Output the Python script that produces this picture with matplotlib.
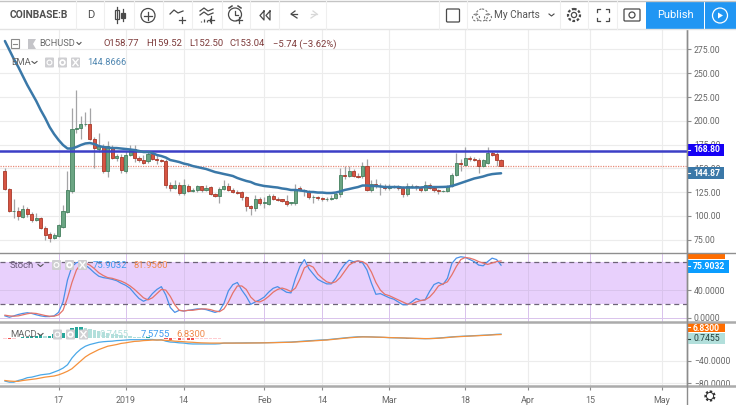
import numpy as np
import matplotlib
matplotlib.use('Agg')
import matplotlib.pyplot as plt
from matplotlib.patches import Rectangle, Circle, FancyBboxPatch

plt.rcParams['font.family'] = ['Roboto', 'DejaVu Sans']

W, H = 736, 405

# days counted from 2019-01-01, one candle per day from Dec 5 to Mar 26
days = np.arange(-27, 85)

opens = [147.6, 128, 105, 105, 99, 107, 102, 96, 98, 87, 81, 77, 79, 88, 104, 126, 191, 192, 197, 197,
         181, 170, 174, 147, 173, 161, 162, 147, 164, 170, 161, 159, 158, 165, 160, 159, 158, 133, 129, 133,
         124, 132, 126, 127, 131, 127, 130, 123, 121, 128, 132, 127, 125, 125, 120, 110, 108, 118, 114, 113,
         121, 118, 118, 116, 114, 114, 129, 127, 126, 120, 120, 119, 118, 118, 119, 123, 143, 142, 147, 142,
         142, 153, 127, 134, 132, 131, 129, 131, 131, 129, 123, 131, 131, 129, 127, 133, 129, 127, 126, 126,
         131, 143, 156, 154, 161, 160, 159, 153, 156, 166, 165, 158.77]
highs = [150, 129, 118, 109, 112, 109, 104, 103, 99, 89, 83, 82, 92, 111, 147, 214, 232, 205, 209, 213,
         183, 187, 176, 179, 175, 165, 165, 168, 175, 175, 163, 164, 167, 167, 165, 160, 160, 136, 138, 136,
         139, 134, 129, 133, 132, 133, 132, 124, 130, 138, 135, 129, 127, 126, 121, 111, 122, 120, 120, 123,
         123, 120, 118, 122, 115, 134, 131, 128, 127, 122, 121, 120, 120, 122, 125, 150, 152, 152, 149, 145,
         157, 160, 138, 139, 135, 134, 134, 133, 133, 131, 135, 134, 133, 132, 137, 135, 130, 128, 127, 133,
         145, 166, 160, 172, 163, 162, 161, 160, 172, 168, 167, 159.52]
lows = [127, 104, 98, 96, 98, 99, 94, 95, 86, 75, 73, 76, 78, 87, 103, 124, 187, 181, 195, 180,
        150, 167, 145, 141, 160, 158, 145, 145, 163, 157, 157, 155, 156, 159, 155, 157, 129, 126, 128, 122,
        122, 125, 125, 125, 125, 126, 122, 120, 114, 127, 126, 124, 123, 117, 105, 101, 105, 112, 108, 112,
        117, 116, 115, 110, 112, 112, 126, 121, 118, 114, 117, 116, 116, 117, 118, 120, 139, 141, 141, 140,
        140, 126, 125, 129, 122, 127, 127, 129, 127, 120, 121, 129, 127, 125, 126, 128, 125, 123, 125, 125,
        130, 142, 147, 153, 158, 158, 145, 151, 155, 163, 153, 152.5]
closes = [128, 105, 105.5, 100, 107, 102, 96, 98, 87, 80, 77, 80, 90, 105, 127, 191, 192, 197, 197, 181,
          171, 174, 147, 174, 161, 163, 148, 164, 170, 161, 159, 156, 165, 160, 159, 158, 133, 129, 133, 124,
          133, 126, 127, 131, 127, 129, 123, 121, 128, 132, 127, 125, 124, 120, 110, 108, 118, 114, 115, 121,
          118, 117, 116, 113, 115, 128, 127, 126, 120, 120, 119, 118, 118, 119, 123, 143, 142, 147, 142, 141,
          153, 127, 134, 132, 131, 129, 132, 130, 129, 123, 132, 132, 130, 127, 133, 129, 127, 126, 126, 131,
          143, 156, 155, 161, 160, 159, 153, 159, 166, 164, 159, 153.04]

ema = [283.9, 274.5, 265, 256.6, 247.1, 237.7, 229.3, 220.9, 211.4, 203, 193.5, 186.1, 179.9, 174.6, 170.9, 170.9,
       172.5, 174.6, 176.2, 176.7, 175.6, 173.5, 172.5, 171.9, 171.4, 171.4, 170.9, 170.4, 169.9, 169.3, 168.3, 167.2,
       167.2, 166.2, 164.1, 163, 161.4, 158.8, 157.8, 156.7, 155.1, 154.1, 152.5, 151.5, 150.4, 149.4, 147.8, 146.2,
       145.2, 144.1, 143.1, 142, 139.9, 138.3, 136.8, 135.7, 133.6, 132.5, 131.5, 131, 130.4, 129.9, 128.9, 128.3,
       127.3, 127.3, 126.8, 126.2, 125.2, 125.2, 124.6, 124.6, 124.1, 124.1, 124.6, 125.7, 127.3, 128.3, 129.4, 130.4,
       132, 132, 131.5, 131.5, 131, 130.4, 130.4, 130.4, 130.4, 129.9, 129.9, 129.9, 129.9, 129.9, 130.4, 130.4,
       130.4, 130.4, 130.5, 130.7, 131.5, 133, 134.6, 136.2, 137.8, 139.4, 140.4, 141.5, 143, 144, 144.5, 144.87]

stoch_k = [3, 1, 3, 5, 6.5, 7.5, 6.5, 4.6, 3, 2, 2, 3, 8, 23, 54.6, 74, 79.5, 81, 76, 71,
           65, 60, 58, 57, 55.5, 53.6, 50, 47, 42.6, 35, 28, 24, 27, 35, 41, 45, 33, 15, 8, 11,
           10, 11, 12, 13, 13, 12, 10, 8, 10, 21, 39, 48, 51, 40, 31, 19.5, 23, 26, 30, 37,
           42.6, 45, 41, 37, 36, 57, 74, 84, 71, 63, 55.5, 52, 49, 49, 57, 68, 77, 83, 81, 82,
           79.5, 69, 50, 34, 35, 32, 29, 27, 23, 19, 19, 23, 28, 25, 26, 38, 48, 51, 48, 57,
           78.5, 86, 88, 87, 84, 81, 76, 75, 81, 86, 84, 75.9]
stoch_d = [4, 3, 2.5, 3, 4.5, 6, 7, 6.5, 5, 3.5, 2.5, 2.5, 4.5, 11, 29, 51, 69, 78, 79, 76,
           71, 65, 61, 58, 57, 55, 53, 50, 46, 41, 35, 29, 26, 29, 35, 41, 40, 31, 19, 11,
           10, 11, 11, 12, 13, 13, 12, 10, 9, 13, 23, 36, 46, 46, 41, 30, 24, 23, 26, 31,
           37, 41, 43, 41, 38, 43, 56, 72, 76, 73, 63, 57, 52, 50, 52, 58, 67, 76, 80, 82,
           81, 77, 66, 51, 40, 34, 32, 29, 26, 23, 20, 20, 23, 25, 26, 30, 37, 46, 49, 52,
           62, 74, 84, 87, 86, 84, 81, 79, 77, 79, 81, 81.96]

macd_line = [-76, -78, -78, -75, -73, -70, -69, -67, -65, -64, -63, -60, -57, -53, -47, -35, -26, -19, -14, -11,
             -9, -7, -6, -5.4, -5, -4, -3.6, -3, -2.4, -2.4, -2.4, -2.4, -2, -2, -3, -2.4, -5, -6.6, -7, -8,
             -8.4, -9.5, -10, -10, -10, -10, -10, -10, -9.6, -8.4, -8.4, -8.4, -8.2, -8.2, -8, -8, -8, -8, -7.8, -7.6,
             -7.4, -7.2, -7, -6.8, -6.6, -6, -5.4, -4.8, -4.2, -3.8, -3.2, -2.8, -2.4, -1.6, -0.8, 0, 0.8, 1.6, 2.2, 2.8,
             3, 2.8, 2.6, 2.2, 2, 1.6, 1.2, 1, 0.8, 0.6, 0.2, 0, -0.2, -0.4, -0.6, -0.4, 0, 0.6, 1.2, 2,
             2.6, 3.2, 3.6, 4, 4.4, 4.8, 5.2, 5.6, 6, 6.6, 7.2, 7.58]
macd_signal = [-75, -76, -76.5, -76.5, -75, -74, -73, -72, -70.5, -69, -68, -67, -65, -62, -58.5, -54, -47, -40, -33, -28,
               -24, -20, -17, -14, -12.5, -11, -9, -8, -6.6, -5.4, -5, -4, -3.6, -3, -3, -3, -3.6, -4, -5, -5.4,
               -6, -6.6, -7, -7.6, -8, -8.2, -8.4, -8.4, -8.4, -8.4, -8.4, -8.4, -8.4, -8.4, -8.4, -8.3, -8.2, -8.1, -8, -7.9,
               -7.7, -7.5, -7.3, -7.1, -6.9, -6.5, -6, -5.5, -5, -4.5, -4, -3.4, -3, -2.2, -1.4, -0.6, 0.2, 1, 1.6, 2.2,
               2.5, 2.5, 2.4, 2.2, 2, 1.8, 1.4, 1.2, 1, 0.8, 0.5, 0.3, 0, -0.2, -0.4, -0.4, -0.2, 0.2, 0.8, 1.4,
               2.2, 2.8, 3.2, 3.6, 4, 4.4, 4.8, 5.2, 5.6, 6.1, 6.5, 6.83]
macd_hist = [-1, -2, -1.5, 1, 2, 3, 4, 5, 5.5, 5, 5, 7, 8, 9, 11.5, 19, 21, 21, 19, 17,
             15, 13, 11, 9, 7.5, 7, 5.5, 5, 4, 3, 2.6, 1.6, 1.6, 1, 0.1, 0.6, -1.4, -2.6, -2, -2.6,
             -2.4, -2.9, -3, -2, -1.6, -1.2, -1, -0.8, -0.4, -0.2, 0.1, 0.2, 0.2, 0.2, 0.2, 0.3, 0.4, 0.2, -0.1, 0.2,
             0.3, 0.3, 0.3, 0.3, 0.3, 0.5, 0.6, 0.7, 0.8, 0.7, 0.8, 0.6, 0.6, 0.6, 0.6, 0.6, 0.6, 0.6, 0.6, 0.6,
             0.5, 0.3, 0.2, 0.1, 0.1, -0.2, -0.2, -0.2, -0.2, -0.2, -0.3, -0.3, -0.2, -0.2, -0.2, 0.1, 0.2, 0.4, 0.4, 0.6,
             0.6, 0.6, 0.4, 0.4, 0.4, 0.4, 0.4, 0.4, 0.4, 0.5, 0.7, 0.75]

time_ticks = [-15, 0, 13, 31, 44, 59, 76, 90, 104, 120]
time_labels = ['17', '2019', '14', 'Feb', '14', 'Mar', '18', 'Apr', '15', 'May']
price_ticks = [75, 100, 125, 150, 175, 200, 225, 250, 275]
stoch_ticks = [0, 40]
macd_ticks = [-80, -40]
level_price = 168.80
last_close = 153.04

GRID = '#ececec'
TICK = '#666666'
AXIS = '#8c8c8c'
RIGHT = 687


def pane(top, bottom):
    return fig.add_axes([0, 1 - bottom / H, RIGHT / W, (bottom - top) / H])


def style(ax, yticks, fmt):
    ax.set_xlim(-28.1, 125.6)
    ax.set_xticks(time_ticks)
    ax.yaxis.tick_right()
    ax.set_yticks(yticks)
    ax.set_yticklabels([fmt(v).replace('-', '\u2212') for v in yticks])
    ax.grid(color=GRID, lw=0.8)
    ax.set_axisbelow(True)
    ax.tick_params(axis='y', length=3, width=0.8, color=AXIS, labelcolor=TICK, labelsize=6.2, pad=2)
    ax.tick_params(axis='x', length=0, labelbottom=False)
    for s in ax.spines.values():
        s.set_visible(False)
    ax.spines['right'].set_visible(True)
    ax.spines['right'].set_color(AXIS)
    ax.spines['right'].set_linewidth(1)


fig = plt.figure(figsize=(W / 100, H / 100), dpi=100, facecolor='white')

# price pane
ax = pane(30, 253)
ax.set_ylim(61.06, 295.5)
style(ax, price_ticks, lambda v: f'{v:.2f}')

colors = ['#6ba583' if c >= o else '#d75442' for o, c in zip(opens, closes)]
edges = ['#44805f' if c >= o else '#a8392a' for o, c in zip(opens, closes)]
ax.vlines(days, lows, highs, color='#a4a4a6', lw=0.9, zorder=2)
ax.bar(days, np.array(closes) - np.array(opens), bottom=opens, width=0.7, color=colors,
       edgecolor=edges, linewidth=0.6, zorder=3)
ax.axhline(last_close, color='#e98b78', lw=0.9, ls=(0, (1, 1)), zorder=2)
ax.axhline(level_price, color='#3c3fc6', lw=1.8, zorder=4)
ax.plot(days, ema, color='#3a78a8', lw=1.8, zorder=5, solid_capstyle='round')

# stochastic pane
ax2 = pane(253, 321.5)
ax2.set_ylim(-5.1, 93.4)
style(ax2, stoch_ticks, lambda v: f'{v:.4f}')
ax2.axhspan(20, 80, color='#e8d0fc', lw=0, zorder=0)
ax2.axhline(80, color='#6e6478', lw=0.9, ls=(0, (4, 3)), zorder=1)
ax2.axhline(20, color='#6e6478', lw=0.9, ls=(0, (4, 3)), zorder=1)
ax2.grid(color='#d9c3ec', lw=0.7)
ax2.plot(days, stoch_k, color='#4a90e8', lw=0.9, zorder=3)
ax2.plot(days, stoch_d, color='#e5736a', lw=0.9, zorder=3)

# macd pane
ax3 = pane(321.5, 386)
ax3.set_ylim(-84.8, 30)
style(ax3, macd_ticks, lambda v: f'{v:.4f}')
hist = np.array(macd_hist)
change = np.diff(hist, prepend=hist[0])
hist_colors = []
for h, c in zip(hist, change):
    if h >= 0:
        hist_colors.append('#26a69a' if c >= 0 else '#b2dfdb')
    else:
        hist_colors.append('#ef5350' if c < 0 else '#ffcdd2')
ax3.bar(days, hist, width=0.75, color=hist_colors, zorder=2)
ax3.plot(days, macd_line, color='#4aa8e8', lw=0.9, zorder=3)
ax3.plot(days, macd_signal, color='#f5913c', lw=0.9, zorder=3)
ax3.tick_params(axis='x', length=3, width=0.8, color=AXIS, labelbottom=True, labelcolor=TICK,
                labelsize=6.4, pad=4)
ax3.set_xticklabels(time_labels)

# overlay in pixels for toolbar, legends and price flags
ov = fig.add_axes([0, 0, 1, 1], facecolor='none', zorder=10)
ov.set_xlim(0, W)
ov.set_ylim(H, 0)
ov.axis('off')


def flag(y0, y1, x1, color, label, text_color='white', weight='bold', dy=0):
    ov.add_patch(Rectangle((RIGHT, y0), x1 - RIGHT, y1 - y0, color=color, lw=0))
    ov.plot([RIGHT, RIGHT + 3], [(y0 + y1) / 2] * 2, color=text_color, lw=0.8)
    ov.text(RIGHT + 6, (y0 + y1) / 2 + dy, label, color=text_color, fontsize=6.2, va='center', weight=weight)


def buttons(x0, y, n=3):
    for k in range(n):
        ov.add_patch(FancyBboxPatch((x0 + k * 13 + 1, y - 4), 7, 8, boxstyle='round,pad=1', color='#cfcfd2', lw=0))
    ov.add_patch(Circle((x0 + 4.5, y), 2.4, fill=False, ec='white', lw=0.8))
    ov.add_patch(Circle((x0 + 17.5, y), 2.4, fill=False, ec='white', lw=1.2))
    ov.plot([x0 + 28, x0 + 33], [y - 3, y + 3], color='white', lw=1)
    ov.plot([x0 + 28, x0 + 33], [y + 3, y - 3], color='white', lw=1)


flag(143.5, 156, 724, '#1500f5', '168.80')
flag(167, 179, 724, '#3b78a8', '144.87')
ov.add_patch(Rectangle((RIGHT, 253), 38, 5.5, color='#ff6d00', lw=0))
flag(260, 272.5, 729, '#0a9dff', '75.9032')
flag(322.5, 332, 725, '#ff6d00', '6.8300', dy=1)
flag(333, 344, 725, '#b2dfdb', '0.7455', text_color='#24403c', weight='normal')

# pane borders
ov.plot([0, W], [253, 253], color='#8f8f8f', lw=1)
ov.plot([0, W], [321.5, 321.5], color='#ababab', lw=1.8)
ov.plot([0, W], [386, 386], color='#ababab', lw=1.8)
ov.plot([RIGHT, RIGHT], [30, H], color=AXIS, lw=1)

# toolbar
ov.add_patch(Rectangle((0, 0), W, 29, color='white', lw=0))
ov.plot([0, W], [29.3, 29.3], color='#e3e3e3', lw=1)
ov.plot([0, W], [0.5, 0.5], color='#c4c4c4', lw=1)
for sx in [76, 104, 134, 163, 192, 222, 250, 279, 326, 439, 467, 560, 588, 617]:
    ov.plot([sx, sx], [1, 29], color='#efefef', lw=0.8)
ov.text(10, 15.5, 'COINBASE:B', fontsize=7.4, weight='bold', color='#4f4f4f', va='center')
ov.text(90.5, 15.5, 'D', fontsize=8, color='#4f4f4f', va='center', ha='center')
IC = '#4a4a4a'
# candle icon
ov.plot([116.5, 116.5], [7, 23], color=IC, lw=0.9)
ov.add_patch(Rectangle((114.5, 10), 4, 9, fill=False, ec=IC, lw=0.9))
ov.plot([123, 123], [9, 21], color=IC, lw=0.9)
ov.add_patch(Rectangle((121, 12.5), 4, 5, fc=IC, ec=IC, lw=0.9))
# plus circle
ov.add_patch(Circle((148, 15.5), 7, fill=False, ec=IC, lw=0.9))
ov.plot([144, 152], [15.5, 15.5], color=IC, lw=0.9)
ov.plot([148, 148], [11.5, 19.5], color=IC, lw=0.9)
# indicators
ov.plot([170, 174, 178, 183], [14, 10, 13, 11], color=IC, lw=0.9)
ov.plot([182, 182], [17, 23], color=IC, lw=0.9)
ov.plot([179, 185], [20, 20], color=IC, lw=0.9)
ov.plot([200, 204, 208, 213], [11, 8, 11, 9], color=IC, lw=0.9)
ov.plot([200, 204, 208, 213], [15, 12, 15, 13], color=IC, lw=0.9)
ov.vlines([201, 204, 207, 210], [21, 19, 20, 18], 22, color=IC, lw=0.9)
ov.plot([211, 211], [16, 23], color=IC, lw=0.9)
ov.plot([208, 214], [20, 20], color=IC, lw=0.9)
# alarm
ov.add_patch(Circle((235, 14.5), 6.5, fill=False, ec=IC, lw=0.9))
ov.plot([235, 235, 238], [11, 15, 15], color=IC, lw=0.9)
ov.plot([229, 232], [8, 6], color=IC, lw=1.1)
ov.plot([238, 241], [6, 8], color=IC, lw=1.1)
ov.plot([239, 239], [17, 23], color=IC, lw=0.9)
ov.plot([236, 242], [20, 20], color=IC, lw=0.9)
# rewind
ov.plot([264, 260, 264, 264], [11, 15.5, 20, 11], color=IC, lw=0.9)
ov.plot([270, 266, 270, 270], [11, 15.5, 20, 11], color=IC, lw=0.9)
# undo redo
ov.plot([297, 291, 295], [18, 14, 11], color=IC, lw=0.9)
ov.plot([291, 297], [14, 14], color=IC, lw=0.9)
ov.plot([311, 317, 313], [18, 14, 11], color='#d8d8d8', lw=0.9)
ov.plot([311, 317], [14, 14], color='#d8d8d8', lw=0.9)
# right part of the toolbar
ov.add_patch(FancyBboxPatch((447.5, 10), 11, 11, boxstyle='round,pad=1', fill=False, ec=IC, lw=0.9))
ov.add_patch(Circle((482, 15), 6, fill=False, ec='#777777', lw=0.8, ls=(0, (2, 1.5))))
ov.add_patch(Circle((476, 17.5), 3.5, fill=False, ec='#777777', lw=0.8, ls=(0, (2, 1.5))))
ov.add_patch(Circle((488, 17.5), 3.5, fill=False, ec='#777777', lw=0.8, ls=(0, (2, 1.5))))
ov.text(494, 15.5, 'My Charts', fontsize=7.3, color='#555555', va='center')
ov.plot([549, 551.5, 554], [14, 16, 14], color=IC, lw=0.8)
ov.add_patch(Circle((574, 15), 6, fill=False, ec=IC, lw=1.6, ls=(0, (1.2, 0.8))))
ov.add_patch(Circle((574, 15), 2.6, fill=False, ec=IC, lw=0.9))
for cx, cy, dx, dy in [(597, 9, 1, 1), (609, 9, -1, 1), (597, 21, 1, -1), (609, 21, -1, -1)]:
    ov.plot([cx, cx, cx + 3 * dx], [cy + 3 * dy, cy, cy], color=IC, lw=0.9)
ov.add_patch(FancyBboxPatch((625, 10), 14, 10, boxstyle='round,pad=1', fill=False, ec=IC, lw=0.9))
ov.add_patch(Circle((632, 15), 3, fill=False, ec=IC, lw=0.9))
ov.add_patch(Rectangle((646, 1), 58, 28, color='#2196f3', lw=0))
ov.add_patch(Rectangle((705, 1), 31, 28, color='#2196f3', lw=0))
ov.text(675.5, 15.5, 'Publish', fontsize=8, color='white', ha='center', va='center')
ov.add_patch(Circle((720, 15.5), 7.5, fill=False, ec='white', lw=0.9))
ov.fill([718, 718, 723], [12.5, 18.5, 15.5], color='white', lw=0)

# legends
MAROON = '#7d3a3a'
ov.add_patch(Rectangle((10.5, 39), 8.5, 9, fill=False, ec='#8a8a8a', lw=0.8))
ov.plot([12.5, 17], [43.5, 43.5], color='#8a8a8a', lw=0.8)
ov.fill([28, 36, 33, 36, 28], [39, 39, 44, 49, 49], color='#c4c4c8', lw=0)
ov.text(39.5, 44, 'BCHUSD', fontsize=6.7, color='#6a6a6a', va='center')
ov.plot([77, 79, 81], [42.5, 44.5, 42.5], color='#555555', lw=0.8)
for lx, lt in [(103, 'O158.77'), (146, 'H159.52'), (189, 'L152.50'), (230, 'C153.04'), (273, '\u22125.74 (\u22123.62%)')]:
    ov.text(lx, 44, lt, fontsize=6.8, color=MAROON, va='center')

ov.text(11, 62.5, 'EMA', fontsize=6.8, color='#666666', va='center')
ov.plot([32, 34.5, 37], [61.5, 63.5, 61.5], color='#555555', lw=0.8)
buttons(45, 62.5)
ov.text(87.5, 62.5, '144.8666', fontsize=6.7, color='#4f86b0', va='center')

ov.text(10, 265.5, 'Stoch', fontsize=6.8, color='#6a5a78', va='center')
ov.plot([38, 40.5, 43], [264.5, 266.5, 264.5], color='#555555', lw=0.8)
buttons(52, 265)
ov.text(93, 265.5, '75.9032', fontsize=6.8, color='#3d9bf0', va='center')
ov.text(133, 265.5, '81.9560', fontsize=6.8, color='#f08a4b', va='center')

ov.text(10, 334.5, 'MACD', fontsize=6.8, color='#666666', va='center')
ov.plot([38, 40.5, 43], [333.5, 335.5, 333.5], color='#555555', lw=0.8)
buttons(53, 334.5)
ov.text(100, 334.5, '0.7455', fontsize=6.8, color='#b2dfdb', va='center')
ov.text(141, 334.5, '7.5755', fontsize=6.8, color='#3d9bf0', va='center')
ov.text(176, 334.5, '6.8300', fontsize=6.8, color='#f08a4b', va='center')

# settings gear at the corner
ov.add_patch(Circle((710, 396), 4.5, fill=False, ec='#333333', lw=1.6, ls=(0, (1, 0.8))))
ov.add_patch(Circle((710, 396), 3.6, fill=False, ec='#333333', lw=0.7))

fig.savefig('out.png', dpi=100)
